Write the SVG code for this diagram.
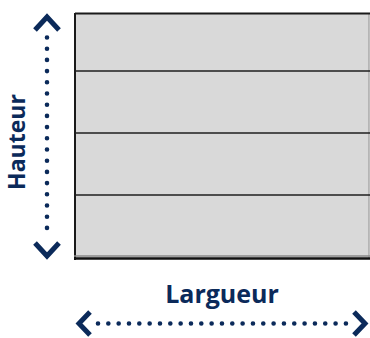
<svg xmlns="http://www.w3.org/2000/svg" width="370" height="338" viewBox="0 0 370 338">
<style>
.lbl{font-family:"Open Sans","Liberation Sans",sans-serif;font-weight:700;fill:#0b2a5a}
.dots{stroke:#0b2a5a;stroke-width:4.6;stroke-linecap:round;fill:none}
.chev{stroke:#0b2a5a;stroke-width:5;fill:none;stroke-linecap:butt;stroke-linejoin:miter}
.sep{stroke:#1e1e1e;stroke-width:1.6}
</style>
<rect width="370" height="338" fill="#ffffff"/>
<g id="panel">
<rect x="75" y="13" width="294" height="245" fill="#d9d9d9"/>
<line x1="369" y1="13" x2="369" y2="258" stroke="#a8a8a8" stroke-width="1.5"/>
<line x1="75" y1="13.5" x2="370" y2="13.5" stroke="#1a1a1a" stroke-width="2"/>
<line x1="75" y1="13" x2="75" y2="260" stroke="#1a1a1a" stroke-width="2"/>
<line x1="74" y1="256" x2="370" y2="256" stroke="#8a8a8a" stroke-width="1.5"/>
<line x1="74" y1="258.5" x2="370" y2="258.5" stroke="#111" stroke-width="2.5"/>
<line class="sep" x1="75" y1="71" x2="370" y2="71"/>
<line class="sep" x1="75" y1="133" x2="370" y2="133"/>
<line class="sep" x1="75" y1="195" x2="370" y2="195"/>
</g>
<g id="connectors">
<line class="dots" x1="47" y1="37.5" x2="47" y2="239" stroke-dasharray="0 11.2"/>
<path class="chev" d="M35,30 L47,17 L59,30"/>
<path class="chev" d="M35,243 L47,256 L59,243"/>
<line class="dots" x1="98" y1="323.5" x2="346" y2="323.5" stroke-dasharray="0 10.33"/>
<path class="chev" d="M90,312 L79,323.5 L90,335"/>
<path class="chev" d="M354,312 L365,323.5 L354,335"/>
</g>
<g id="hauteur">
<text class="lbl" font-size="23" text-anchor="middle" transform="translate(25,142) rotate(-90)">Hauteur</text>
</g>
<g id="largueur">
<text class="lbl" font-size="25" text-anchor="middle" x="222" y="303">Largueur</text>
</g>
</svg>
